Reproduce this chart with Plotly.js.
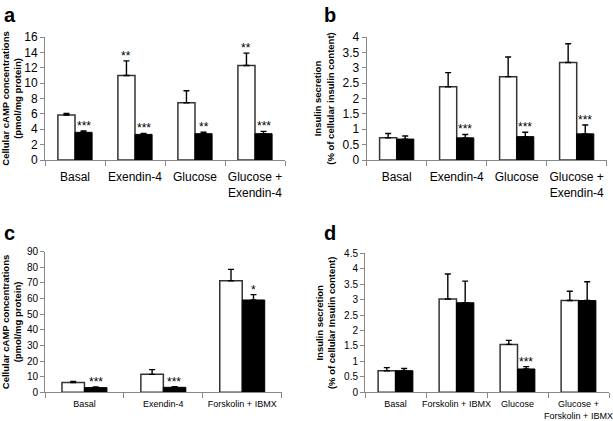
<!DOCTYPE html>
<html><head><meta charset="utf-8">
<script src="https://cdn.plot.ly/plotly-3.0.1.min.js"></script>
<style>html,body{margin:0;padding:0;background:#fff}#chart{width:613px;height:421px}</style>
</head><body><div id="chart"></div>
<script>
// Panel a: cellular cAMP
const catA = ['Basal','Exendin-4','Glucose','Glucose +<br>Exendin-4'];
const ctrlA = [5.85, 11.0, 7.45, 12.3];
const ctrlErrA = [0.2, 1.9, 1.55, 1.6];
const trtA = [3.6, 3.33, 3.42, 3.42];
const trtErrA = [0.17, 0.13, 0.18, 0.3];
const sigCtrlA = ['', '**', '', '**'];
const sigTrtA = ['***', '***', '**', '***'];

// Panel b: insulin secretion
const catB = ['Basal','Exendin-4','Glucose','Glucose +<br>Exendin-4'];
const ctrlB = [0.72, 2.38, 2.71, 3.17];
const ctrlErrB = [0.14, 0.46, 0.64, 0.61];
const trtB = [0.68, 0.72, 0.76, 0.85];
const trtErrB = [0.1, 0.11, 0.14, 0.29];
const sigCtrlB = ['', '', '', ''];
const sigTrtB = ['', '***', '***', '***'];

// Panel c: cellular cAMP
const catC = ['Basal','Exendin-4','Forskolin + IBMX'];
const ctrlC = [6.2, 11.5, 71.4];
const ctrlErrC = [0.8, 3.0, 7.3];
const trtC = [3.0, 3.2, 59.1];
const trtErrC = [0.5, 0.4, 3.4];
const sigCtrlC = ['', '', ''];
const sigTrtC = ['***', '***', '*'];

// Panel d: insulin secretion
const catD = ['Basal','Forskolin + IBMX','Glucose','Glucose +<br>Forskolin + IBMX'];
const ctrlD = [0.70, 3.02, 1.55, 2.97];
const ctrlErrD = [0.1, 0.81, 0.13, 0.3];
const trtD = [0.70, 2.90, 0.755, 2.97];
const trtErrD = [0.07, 0.7, 0.075, 0.61];
const sigCtrlD = ['', '', '', ''];
const sigTrtD = ['', '', '***', ''];

const W = 613, H = 421;
const sans = 'Liberation Sans, Arial, sans-serif';

const panels = [
  {letter:'a', cat:catA, c:ctrlA, ce:ctrlErrA, t:trtA, te:trtErrA, sc:sigCtrlA, st:sigTrtA,
   px:[45,285], py:[37,160], range:[0,16], dtick:2, gap:0.42, fs:12, xfs:12, so:6, afs:12,
   title:'Cellular cAMP concentrations<br>(pmol/mg protein)', lx:2, ly:2},
  {letter:'b', cat:catB, c:ctrlB, ce:ctrlErrB, t:trtB, te:trtErrB, sc:sigCtrlB, st:sigTrtB,
   px:[366.7,606.7], py:[37,160], range:[0,4], dtick:0.5, gap:0.42, fs:12, xfs:12, so:6, afs:12,
   title:'Insulin secretion<br>(% of cellular insulin content)', lx:322, ly:2},
  {letter:'c', cat:catC, c:ctrlC, ce:ctrlErrC, t:trtC, te:trtErrC, sc:sigCtrlC, st:sigTrtC,
   px:[45,281.7], py:[251.7,392.3], range:[0,90], dtick:10, gap:0.44, fs:10, xfs:9, so:3, afs:12,
   title:'Cellular cAMP concentrations<br>(pmol/mg protein)', lx:2, ly:220},
  {letter:'d', cat:catD, c:ctrlD, ce:ctrlErrD, t:trtD, te:trtErrD, sc:sigCtrlD, st:sigTrtD,
   px:[365,609], py:[253.3,392.3], range:[0,4.5], dtick:0.5, gap:0.44, fs:10, xfs:9, so:3, afs:12,
   title:'Insulin secretion<br>(% of cellular Insulin content)', lx:322, ly:220}
];

const data = [];
const layout = {
  width: W, height: H, margin:{l:0,r:0,t:0,b:0},
  paper_bgcolor:'#fff', plot_bgcolor:'#fff', showlegend:false,
  barmode:'group', bargap:0.43, annotations:[], font:{family:sans, color:'#000'}
};

panels.forEach((p, i) => {
  const n = i === 0 ? '' : String(i + 1);
  const xa = 'x' + n, ya = 'y' + n;
  const errStyle = (arr) => ({type:'data', array:arr, arrayminus:arr.map(()=>0), symmetric:false,
    visible:true, color:'#000', thickness:1.4, width:3});
  data.push({type:'bar', x:p.cat, y:p.c, xaxis:xa, yaxis:ya,
    marker:{color:'#fff', line:{color:'#333', width:1.5}}, error_y:errStyle(p.ce), hoverinfo:'skip'});
  data.push({type:'bar', x:p.cat, y:p.t, xaxis:xa, yaxis:ya,
    marker:{color:'#000', line:{color:'#000', width:1}}, error_y:errStyle(p.te), hoverinfo:'skip'});
  layout['xaxis' + n] = {
    domain:[p.px[0]/W, p.px[1]/W], anchor:ya, type:'category', tickangle:0, automargin:false,
    showline:true, linecolor:'#888', linewidth:1, ticks:'outside', tickson:'boundaries',
    ticklen:5, tickcolor:'#888', tickfont:{family:sans, size:p.xfs, color:'#000'},
    ticklabelstandoff:p.so, showgrid:false, zeroline:false, fixedrange:true
  };
  layout['yaxis' + n] = {
    domain:[1 - p.py[1]/H, 1 - p.py[0]/H], anchor:xa, range:p.range, dtick:p.dtick, automargin:false,
    showline:true, linecolor:'#888', linewidth:1, ticks:'outside', ticklen:4, tickcolor:'#888',
    tickfont:{family:sans, size:p.fs, color:'#000'}, showgrid:false, zeroline:false, fixedrange:true,
    title:{text:'<b>' + p.title + '</b>', font:{family:sans, size:9.5, color:'#000'}, standoff:6}
  };
  const off = (1 - p.gap) / 4;
  p.cat.forEach((c, k) => {
    if (p.sc[k]) layout.annotations.push({xref:xa, yref:ya, x:k - off, y:p.c[k] + p.ce[k],
      text:p.sc[k], showarrow:false, yanchor:'bottom', yshift:-4, font:{family:sans, size:p.afs, color:'#000'}});
    if (p.st[k]) layout.annotations.push({xref:xa, yref:ya, x:k + off, y:p.t[k] + p.te[k],
      text:p.st[k], showarrow:false, yanchor:'bottom', yshift:-4, font:{family:sans, size:p.afs, color:'#000'}});
  });
  layout.annotations.push({xref:'paper', yref:'paper', x:p.lx/W, y:1 - p.ly/H, xanchor:'left', yanchor:'top',
    text:'<b>' + p.letter + '</b>', showarrow:false, font:{family:sans, size:20, color:'#000'}});
});

Plotly.newPlot('chart', data, layout, {displayModeBar:false, staticPlot:true});
</script></body></html>
